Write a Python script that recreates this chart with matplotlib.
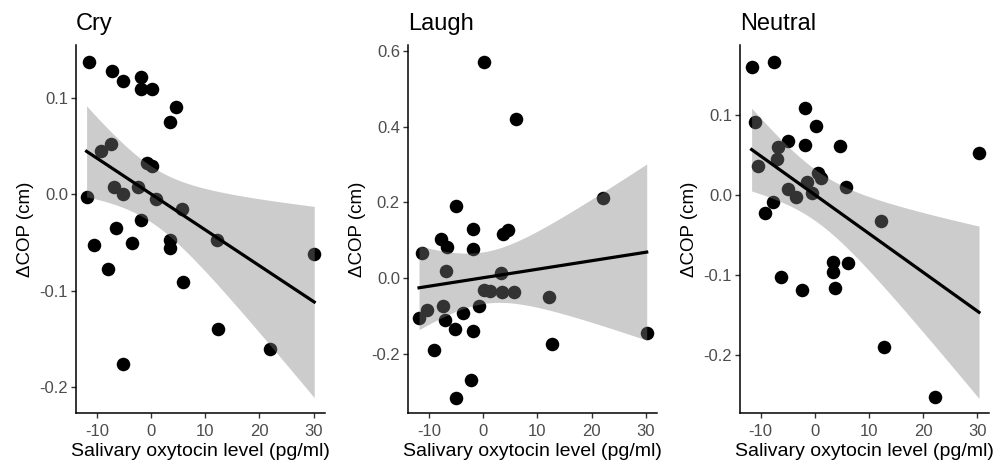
import matplotlib
matplotlib.use("Agg")
import matplotlib.pyplot as plt
import numpy as np

plt.rcParams['font.family'] = ['Liberation Sans', 'DejaVu Sans']

# oxytocin (x) and delta COP (y) per condition
cry_x = [-11.4, -7.2, -5.1, -1.85, -1.9, 0.18, 4.56, 3.4, -9.3, -7.4, -0.8, 0.2,
         -6.8, -5.2, -2.4, 0.9, 5.66, -11.9, -1.8, -6.5, -10.5, -3.5, 3.5, 3.4,
         12.1, 30.1, -8.0, 5.98, 12.4, 21.96, -5.1]
cry_y = [0.138, 0.128, 0.118, 0.122, 0.110, 0.110, 0.091, 0.075, 0.045, 0.052,
         0.033, 0.030, 0.008, 0.000, 0.008, -0.005, -0.015, -0.0025, -0.027,
         -0.035, -0.053, -0.051, -0.0475, -0.056, -0.0475, -0.062, -0.078,
         -0.0915, -0.140, -0.161, -0.176]

laugh_x = [0.15, 6.0, 22.1, -5.1, -2.0, 3.7, 4.6, -7.9, -6.7, -1.9, -11.3, -6.9,
           3.2, 0.1, 1.2, 3.4, 5.6, 12.2, -7.45, -0.8, -10.5, -11.9, -3.7, -7.1,
           -5.3, -2.0, 30.2, 12.6, -9.2, -2.2, -5.1]
laugh_y = [0.572, 0.420, 0.211, 0.190, 0.129, 0.116, 0.127, 0.104, 0.081, 0.077,
           0.067, 0.019, 0.014, -0.032, -0.034, -0.037, -0.037, -0.049, -0.074,
           -0.074, -0.085, -0.107, -0.093, -0.111, -0.136, -0.140, -0.146,
           -0.175, -0.190, -0.270, -0.318]

neutral_x = [-11.66, -7.5, -1.84, 0.18, -11.05, -4.9, -1.84, 4.6, -6.76, -7.05,
             30.3, -10.4, 0.6, 1.1, -1.5, 5.8, -5.0, -3.4, -0.6, -7.7, -9.1,
             12.3, 3.4, 6.1, 3.4, -6.3, -2.3, 3.8, 12.7, 22.1]
neutral_y = [0.160, 0.166, 0.109, 0.086, 0.091, 0.067, 0.062, 0.061, 0.059, 0.045,
             0.0515, 0.036, 0.027, 0.021, 0.016, 0.0098, 0.0065, -0.003, 0.002,
             -0.009, -0.023, -0.033, -0.084, -0.086, -0.097, -0.103, -0.119,
             -0.117, -0.190, -0.253]

titles = ['Cry', 'Laugh', 'Neutral']
x_ticks = [-10, 0, 10, 20, 30]
y_ticks = [[-0.2, -0.1, 0.0, 0.1],
           [-0.2, 0.0, 0.2, 0.4, 0.6],
           [-0.2, -0.1, 0.0, 0.1]]
x_lims = [(-13.9, 32.1), (-14.0, 32.1), (-13.8, 32.2)]
y_lims = [(-0.2277, 0.1552), (-0.358, 0.616), (-0.2735, 0.187)]
lefts = [0.0759, 0.4085, 0.7415]

data = [(cry_x, cry_y), (laugh_x, laugh_y), (neutral_x, neutral_y)]

fig = plt.figure(figsize=(9.98, 4.66), dpi=100)

for i, (xs, ys) in enumerate(data):
    ax = fig.add_axes([lefts[i], 0.1131, 0.2498, 0.790])
    xs = np.array(xs)
    ys = np.array(ys)
    ax.scatter(xs, ys, s=95, color='black', linewidths=0, zorder=2)

    # linear fit with 95% confidence band (like geom_smooth(method='lm'))
    n = len(xs)
    b, a = np.polyfit(xs, ys, 1)
    resid = ys - (a + b * xs)
    sigma = np.sqrt(np.sum(resid ** 2) / (n - 2))
    xg = np.linspace(xs.min(), xs.max(), 80)
    se = sigma * np.sqrt(1.0 / n + (xg - xs.mean()) ** 2 / np.sum((xs - xs.mean()) ** 2))
    t = 2.045
    yg = a + b * xg
    ax.fill_between(xg, yg - t * se, yg + t * se, color='#808080', alpha=0.4,
                    linewidth=0, zorder=3)
    ax.plot(xg, yg, color='black', linewidth=2.3, zorder=4)

    ax.set_xlim(*x_lims[i])
    ax.set_ylim(*y_lims[i])
    ax.set_xticks(x_ticks)
    ax.set_yticks(y_ticks[i])
    ax.set_yticklabels(['%.1f' % v for v in y_ticks[i]])
    ax.set_xticklabels([str(v) for v in x_ticks])
    for side in ['top', 'right']:
        ax.spines[side].set_visible(False)
    for side in ['left', 'bottom']:
        ax.spines[side].set_linewidth(1.1)
    ax.tick_params(length=3.6, width=1.0, color='#333333', labelcolor='#4D4D4D',
                   labelsize=12, pad=2)
    ax.tick_params(axis='x', pad=4)
    ax.set_xlabel('Salivary oxytocin level (pg/ml)', fontsize=14, labelpad=3)
    ax.set_ylabel('ΔCOP (cm)', fontsize=13.5, labelpad=4)
    ax.set_title(titles[i], fontsize=17, loc='left', pad=11)

fig.savefig('out.png', dpi=100)
